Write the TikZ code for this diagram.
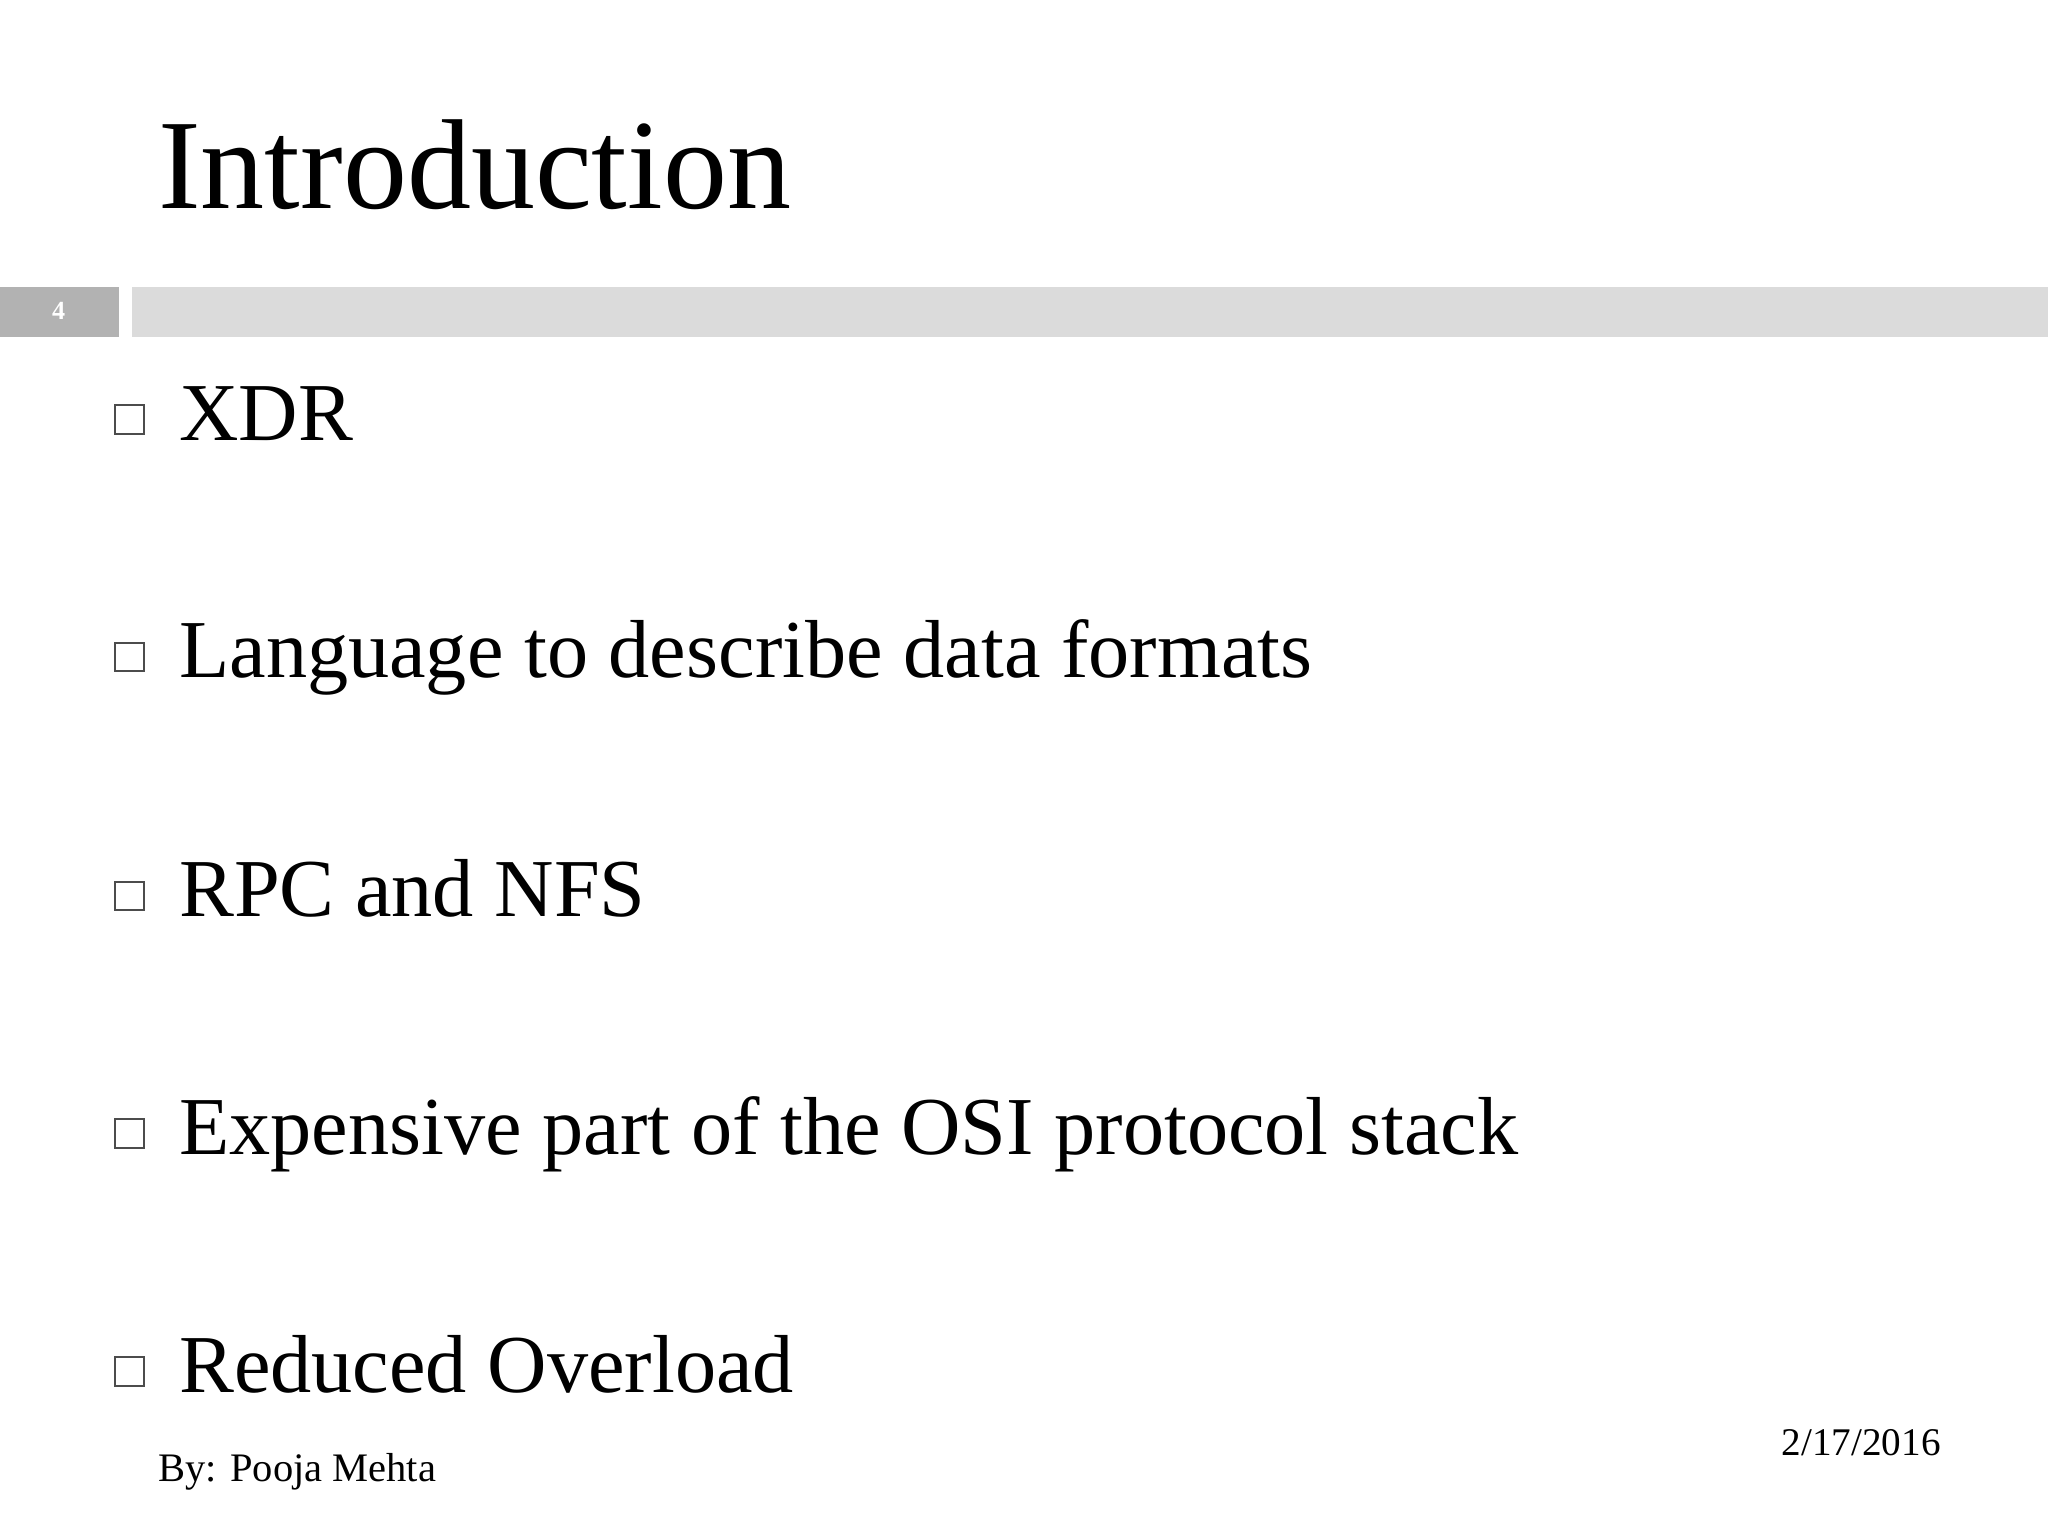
\documentclass[tikz,border=0pt]{standalone}
\usepackage{fontspec}
\setmainfont{Liberation Serif}
\begin{document}
\begin{tikzpicture}[x=1pt,y=-1pt,
  txt/.style={anchor=base west,inner sep=0pt,font=\fontsize{63}{70}\selectfont},
  sq/.style={draw=black!70,line width=1.6pt,fill=white}]
\useasboundingbox (0,0) rectangle (1568,1176);
\fill[white] (0,0) rectangle (1568,1176);
\node[anchor=base west,inner sep=0pt,font=\fontsize{98}{110}\selectfont] (title) at (121,160) {Introduction};
\fill[black!30] (0,220) rectangle (91,258);
\fill[black!14] (101,220) rectangle (1568,258);
\node[text=white,font=\fontsize{20}{24}\selectfont\bfseries] (num) at (45,238) {4};
\foreach \y/\t [count=\i] in {337/XDR,519/Language to describe data formats,702/RPC and NFS,884/Expensive part of the OSI protocol stack,1066/Reduced Overload}{
  \draw[sq] (88,\y-27) rectangle (110,\y-5);
  \node[txt] (b\i) at (137,\y) {\t};
}
\node[anchor=base west,inner sep=0pt,font=\fontsize{31}{36}\selectfont] (by) at (121,1134) {By: Pooja Mehta};
\node[anchor=base east,inner sep=0pt,font=\fontsize{30}{36}\selectfont] (date) at (1486,1114) {2/17/2016};
\end{tikzpicture}
\end{document}
